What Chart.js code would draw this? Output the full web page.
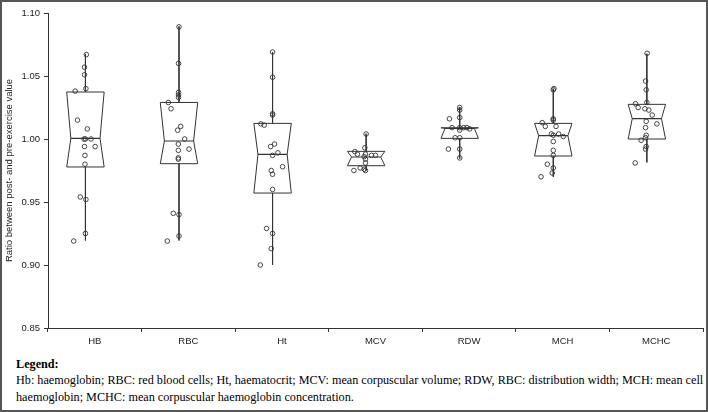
<!DOCTYPE html>
<html><head><meta charset="utf-8">
<script src="https://cdn.jsdelivr.net/npm/chart.js@4.4.1/dist/chart.umd.min.js"></script>
<style>
html,body{margin:0;padding:0;background:#fff;}
#wrap{position:relative;width:708px;height:412px;overflow:hidden;background:#fff;}
#cv{position:absolute;left:0;top:0;width:708px;height:352px;}
#frame{position:absolute;left:0;top:0;width:708px;height:412px;box-sizing:border-box;border:2px solid #555;pointer-events:none;}
#legend{position:absolute;left:16px;top:356px;font-family:"Liberation Serif","Times New Roman",serif;font-size:12.2px;line-height:16.3px;color:#000;white-space:nowrap;}
</style></head>
<body><div id="wrap"><div id="cv"><canvas id="c" width="708" height="352"></canvas></div>
<div id="legend"><b>Legend:</b><br>Hb: haemoglobin; RBC: red blood cells; Ht, haematocrit; MCV: mean corpuscular volume; RDW, RBC: distribution width; MCH: mean cell<br>haemoglobin; MCHC: mean corpuscular haemoglobin concentration.</div>
<div id="frame"></div></div>
<script>
const categories = ['HB','RBC','Ht','MCV','RDW','MCH','MCHC'];
const yTicks = [0.85, 0.90, 0.95, 1.00, 1.05, 1.10];
const yTitle = 'Ratio between post- and pre-exercise value';

// box statistics per category
const q3s        = [1.0373, 1.0290, 1.0124, 0.9902, 1.0089, 1.0124, 1.0275];
const medians    = [1.0005, 0.9984, 0.9878, 0.9857, 1.0085, 1.0026, 1.0161];
const q1s        = [0.9778, 0.9804, 0.9571, 0.9788, 1.0005, 0.9865, 1.0000];
const whiskerHi  = [1.0675, 1.0894, 1.0690, 1.0042, 1.0254, 1.0399, 1.0677];
const whiskerLo  = [0.9195, 0.9195, 0.9002, 0.9750, 0.9844, 0.9700, 0.9814];

// individual observations and their horizontal jitter (fraction of a category)
const hbValues   = [1.067,1.057,1.051,1.040,1.038,1.015,1.008,1.000,1.000,1.000,0.994,0.994,0.987,0.980,0.954,0.952,0.925,0.919];
const hbJitter   = [0.01,-0.01,-0.01,0.005,-0.11,-0.085,0.02,-0.015,0,0.06,0.104,-0.01,-0.005,-0.005,-0.055,0.005,0,-0.125];
const rbcValues  = [1.089,1.060,1.037,1.035,1.033,1.029,1.024,1.010,1.007,1.000,0.996,0.992,0.991,0.985,0.984,0.941,0.940,0.923,0.919];
const rbcJitter  = [0,-0.005,-0.005,-0.005,-0.005,-0.114,-0.085,0.018,-0.014,0.061,-0.007,0.107,-0.007,-0.007,-0.007,-0.061,0,0,-0.125];
const htValues   = [1.069,1.049,1.020,1.019,1.012,1.011,0.996,0.994,0.989,0.987,0.978,0.975,0.972,0.960,0.929,0.925,0.913,0.900];
const htJitter   = [0,0,0,0,-0.125,-0.089,0.021,-0.021,0.057,0,0.107,-0.014,0,0,-0.064,0,-0.014,-0.131];
const mcvValues  = [1.004,0.993,0.990,0.988,0.988,0.987,0.987,0.986,0.984,0.981,0.977,0.976,0.975,0.975];
const mcvJitter  = [0,-0.014,-0.121,-0.093,-0.007,0.057,0.1,-0.021,-0.007,-0.007,-0.064,-0.021,-0.131,-0.007];
const rdwValues  = [1.025,1.023,1.017,1.016,1.009,1.009,1.007,1.009,1.009,1.008,1.001,1.001,0.992,0.992,0.985];
const rdwJitter  = [0,0,0,-0.11,-0.082,0,0,0.043,0.078,0.107,-0.049,0,-0.121,0,0];
const mchValues  = [1.040,1.039,1.016,1.015,1.013,1.010,1.010,1.004,1.003,1.004,1.002,0.998,0.991,0.987,0.980,0.977,0.973,0.970];
const mchJitter  = [0.007,0,0,0,-0.118,-0.085,0.029,-0.021,0,0.057,0.107,0,0,0,-0.064,0,-0.011,-0.131];
const mchcValues = [1.068,1.046,1.039,1.029,1.028,1.025,1.024,1.023,1.019,1.014,1.012,1.009,1.003,1.001,0.999,0.994,0.992,0.981];
const mchcJitter = [0.003,-0.014,-0.007,0,-0.121,-0.093,-0.021,0.021,0.057,-0.007,0.107,-0.014,-0.007,-0.014,-0.061,-0.007,-0.014,-0.125];

const allValues = [hbValues, rbcValues, htValues, mcvValues, rdwValues, mchValues, mchcValues];
const allJitter = [hbJitter, rbcJitter, htJitter, mcvJitter, rdwJitter, mchJitter, mchcJitter];

// style constants
const SHIFT = -0.1, HALF = 0.2, NOTCH = 0.78;
const INK = '#333';
const SANS = '"Liberation Sans", Arial, sans-serif';

const boxPts = [], whiskPts = [], medPts = [], dotPts = [];
categories.forEach((c, i) => {
  const cx = i + SHIFT, w = HALF, nw = HALF * NOTCH;
  boxPts.push({x:cx-w,y:q3s[i]},{x:cx+w,y:q3s[i]},{x:cx+nw,y:medians[i]},{x:cx+w,y:q1s[i]},
              {x:cx-w,y:q1s[i]},{x:cx-nw,y:medians[i]},{x:cx-w,y:q3s[i]},{x:cx,y:null});
  whiskPts.push({x:cx,y:whiskerHi[i]},{x:cx,y:q3s[i]},{x:cx,y:null},
                {x:cx,y:q1s[i]},{x:cx,y:whiskerLo[i]},{x:cx,y:null});
  medPts.push({x:cx-nw,y:medians[i]},{x:cx+nw,y:medians[i]},{x:cx,y:null});
  allValues[i].forEach((v, k) => dotPts.push({x: cx + allJitter[i][k], y: v}));
});

new Chart(document.getElementById('c'), {
  type: 'scatter',
  data: {
    datasets: [
      { data: dotPts, pointRadius: 2.3, pointBorderWidth: 0.9, pointBorderColor: INK,
        pointBackgroundColor: 'rgba(0,0,0,0)', showLine: false, clip: false },
      { data: medPts, showLine: true, borderColor: INK, borderWidth: 1.2, pointRadius: 0, spanGaps: false },
      { data: boxPts, showLine: true, borderColor: INK, borderWidth: 1, pointRadius: 0, spanGaps: false, tension: 0 },
      { data: whiskPts, showLine: true, borderColor: '#333', borderWidth: 0.9, pointRadius: 0, spanGaps: false }
    ]
  },
  options: {
    responsive: false,
    animation: false,
    layout: { padding: { left: 0, right: 5, top: 13, bottom: 0 } },
    plugins: { legend: { display: false }, tooltip: { enabled: false } },
    scales: {
      x: { type: 'linear', display: false, min: -0.5, max: 6.5 },
      xc: {
        type: 'category', labels: categories, position: 'bottom', offset: true,
        grid: { offset: true, drawOnChartArea: false, tickLength: 4, color: INK },
        border: { display: true, color: INK, width: 1 },
        ticks: { font: { family: SANS, size: 9.5 }, color: '#222', padding: 4, maxRotation: 0, autoSkip: false },
        afterFit: s => { s.height = 24; }
      },
      y: {
        type: 'linear', min: 0.85, max: 1.10,
        afterBuildTicks: s => { s.ticks = yTicks.map(v => ({ value: v })); },
        grid: { drawOnChartArea: false, tickLength: 4, color: INK },
        border: { display: true, color: INK, width: 1 },
        ticks: { font: { family: SANS, size: 9.5 }, color: '#222', padding: 4,
                 callback: v => Number(v).toFixed(2) },
        title: { display: true, text: yTitle, font: { family: SANS, size: 9.5 }, color: '#222',
                 padding: { top: 4, bottom: 0 } },
        afterFit: s => { s.width = 48; }
      }
    }
  }
});
</script>
</body></html>
